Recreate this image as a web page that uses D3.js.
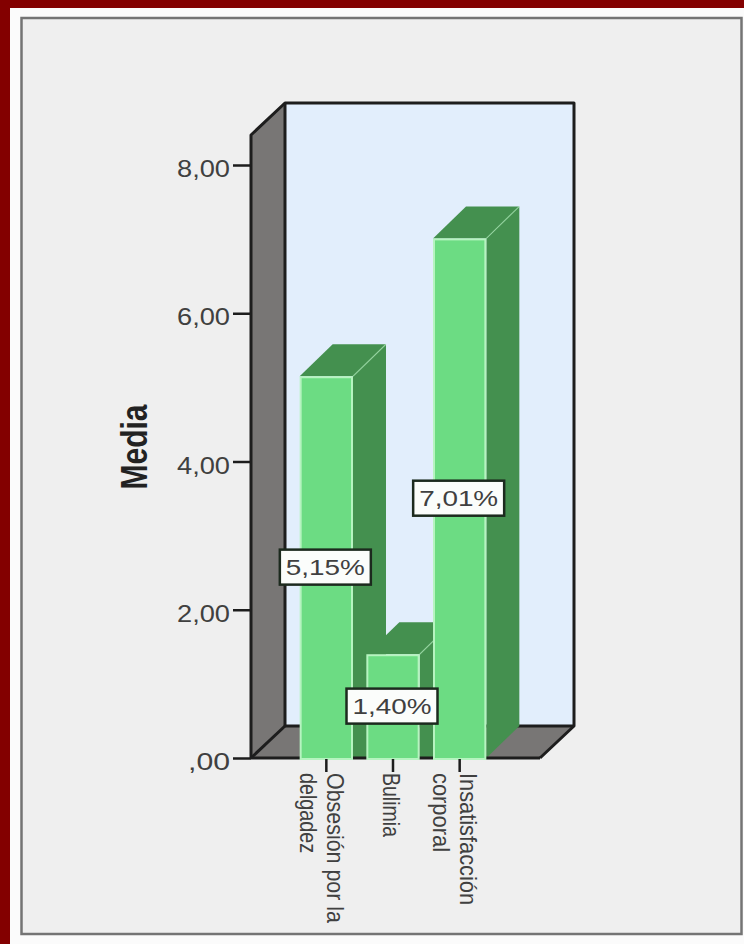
<!DOCTYPE html>
<html lang="es">
<head>
<meta charset="utf-8">
<title>Media</title>
<script src="https://cdn.jsdelivr.net/npm/d3@7/dist/d3.min.js"></script>
<style>
  html, body { margin: 0; padding: 0; background: #fff; }
  svg { display: block; font-family: "Liberation Sans", Arial, sans-serif; }
</style>
</head>
<body>
<svg id="chart" width="744" height="944"></svg>
<script>
// Chart values
const categories = ["Obsesión por la delgadez", "Bulimia", "Insatisfacción corporal"];
const categoryLines = [["Obsesión por la", "delgadez"], ["Bulimia"], ["Insatisfacción", "corporal"]];
const lineWidths = [[150, 80], [64], [132, 79]];
const means = [5.15, 1.40, 7.01];
const yTicks = [0, 2, 4, 6, 8];

const colors = {
  frame: "#830000", panel: "#efefef", panelEdge: "#747474",
  wall: "#e2eefc", sideWall: "#787675", ink: "#1d1d1d", text: "#404040",
  face: "#6cdc83", faceEdge: "#b6f4c0", shade: "#44904f"
};

const svg = d3.select("#chart");
const es = v => d3.format(".2f")(v).replace(".", ",");
const tickText = v => v === 0 ? ",00" : es(v);

// Outer frame and panel
svg.append("rect").attr("width", 744).attr("height", 944).attr("fill", colors.frame);
svg.append("rect").attr("x", 10).attr("y", 8).attr("width", 734).attr("height", 936).attr("fill", "#fbfbfb");
svg.append("rect").attr("x", 21.5).attr("y", 18).attr("width", 720).attr("height", 916)
  .attr("fill", colors.panel).attr("stroke", colors.panelEdge).attr("stroke-width", 2.5);

// Scales and oblique depth of the 3D box
const y = d3.scaleLinear().domain([0, 8]).range([758, 165]);
const x = d3.scaleBand().domain(categories).range([293, 493]).paddingInner(0.2).paddingOuter(0.1);
const boxLeft = 251, boxRight = 540, boxTop = 135;
const depthX = 34, depthY = 32;
const barDepthX = 33, barDepthY = 32;
const line = d3.line();

const poly = (pts, fill) => svg.append("path").attr("d", line(pts) + "Z").attr("fill", fill);

// Back wall, left wall and floor
poly([[boxLeft + depthX, boxTop - depthY], [boxRight + depthX, boxTop - depthY],
      [boxRight + depthX, y(0) - depthY], [boxLeft + depthX, y(0) - depthY]], colors.wall);
poly([[boxLeft, boxTop], [boxLeft + depthX, boxTop - depthY],
      [boxLeft + depthX, y(0) - depthY], [boxLeft, y(0)]], colors.sideWall);
poly([[boxLeft, y(0)], [boxLeft + depthX, y(0) - depthY],
      [boxRight + depthX, y(0) - depthY], [boxRight, y(0)]], colors.sideWall);

// Box outline
const outline = svg.append("g").attr("fill", "none").attr("stroke", colors.ink)
  .attr("stroke-width", 3).attr("stroke-linejoin", "round");
[
  [[boxLeft, y(0)], [boxLeft, boxTop], [boxLeft + depthX, boxTop - depthY],
   [boxRight + depthX, boxTop - depthY], [boxRight + depthX, y(0) - depthY],
   [boxRight, y(0)]],
  [[boxLeft + depthX, boxTop - depthY], [boxLeft + depthX, y(0) - depthY],
   [boxRight + depthX, y(0) - depthY]],
  [[boxLeft, y(0)], [boxLeft + depthX, y(0) - depthY]]
].forEach(p => outline.append("path").attr("d", line(p)));

// Y axis
const yAxis = svg.append("g")
  .attr("transform", `translate(${boxLeft},0)`)
  .call(d3.axisLeft(y).tickValues(yTicks).tickSize(18).tickPadding(3).tickFormat(tickText));
yAxis.select(".domain").remove();
yAxis.selectAll("line").attr("stroke", colors.ink).attr("stroke-width", 2.5);
yAxis.selectAll("text")
  .attr("fill", colors.text).attr("font-size", 24).attr("dy", "0.48em")
  .attr("textLength", d => d === 0 ? 42 : 53)
  .attr("lengthAdjust", "spacingAndGlyphs");

// Bar sides and tops; inner bars keep their side down to the floor edge
const lastIndex = categories.length - 1;
const barGroup = svg.append("g");
categories.forEach((c, i) => {
  const l = x(c), r = l + x.bandwidth(), t = y(means[i]), b = y(0);
  const side = i === lastIndex
    ? [[r, t], [r + barDepthX, t - barDepthY], [r + barDepthX, b - barDepthY], [r, b]]
    : [[r, t], [r + barDepthX, t - barDepthY], [r + barDepthX, b], [r, b]];
  barGroup.append("path").attr("d", line(side) + "Z").attr("fill", colors.shade);
  barGroup.append("path").attr("fill", colors.shade)
    .attr("d", line([[l, t], [l + barDepthX, t - barDepthY], [r + barDepthX, t - barDepthY], [r, t]]) + "Z");
  barGroup.append("path").attr("fill", "none")
    .attr("stroke", colors.faceEdge).attr("stroke-opacity", 0.55).attr("stroke-width", 1.2)
    .attr("d", line([[r, t], [r + barDepthX, t - barDepthY]]));
});

// Front floor edge passes in front of the sides, behind the faces
svg.append("path").attr("fill", "none").attr("stroke", colors.ink).attr("stroke-width", 3)
  .attr("d", line([[boxLeft, y(0)], [boxRight, y(0)]]));

// Bar front faces with light edges
svg.append("g").selectAll("rect").data(categories).join("rect")
  .attr("x", d => x(d) + 1).attr("y", (d, i) => y(means[i]) + 1)
  .attr("width", x.bandwidth() - 2)
  .attr("height", (d, i) => y(0) - y(means[i]))
  .attr("fill", colors.face).attr("stroke", colors.faceEdge).attr("stroke-width", 2);

// X axis ticks and wrapped, rotated category labels
const ticks = svg.append("g");
categories.forEach((c, i) => {
  const cx = x(c) + x.bandwidth() / 2;
  ticks.append("line").attr("x1", cx).attr("x2", cx).attr("y1", y(0) + 1).attr("y2", y(0) + 14)
    .attr("stroke", colors.ink).attr("stroke-width", 2.5);
  const lines = categoryLines[i];
  lines.forEach((t, k) => {
    const baseline = lines.length === 1 ? cx - 10 : cx + 0.5 - k * 27;
    ticks.append("text")
      .attr("transform", `translate(${baseline},${y(0) + 15}) rotate(90)`)
      .attr("font-size", 24).attr("fill", colors.text)
      .attr("textLength", lineWidths[i][k]).attr("lengthAdjust", "spacingAndGlyphs")
      .text(t);
  });
});

// Value boxes centred at half of each bar's height
categories.forEach((c, i) => {
  const cx = x(c) + x.bandwidth() / 2 - 1;
  const cy = y(means[i] / 2);
  const w = 91, h = 35;
  svg.append("rect").attr("x", cx - w / 2).attr("y", cy - h / 2).attr("width", w).attr("height", h)
    .attr("fill", "#fbfdfb").attr("stroke", "#1c2a1e").attr("stroke-width", 2.5);
  svg.append("text").attr("x", cx).attr("y", cy).attr("dy", "0.36em")
    .attr("text-anchor", "middle").attr("font-size", 22).attr("fill", colors.text)
    .attr("textLength", 79).attr("lengthAdjust", "spacingAndGlyphs")
    .text(es(means[i]) + "%");
});

// Y axis title
svg.append("text")
  .attr("transform", "translate(147,447) rotate(-90)")
  .attr("text-anchor", "middle")
  .attr("font-size", 36).attr("font-weight", "bold").attr("fill", "#222")
  .attr("textLength", 85).attr("lengthAdjust", "spacingAndGlyphs")
  .text("Media");
</script>
</body>
</html>
